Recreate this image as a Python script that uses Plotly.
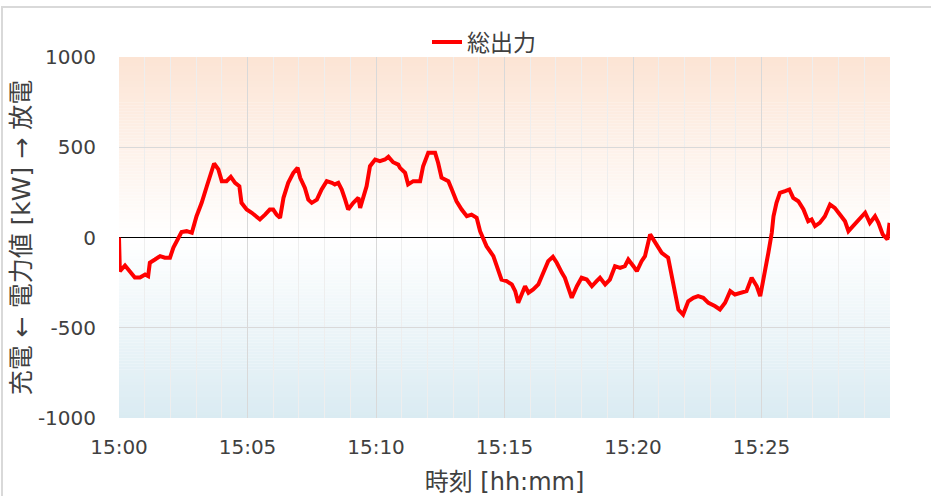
import plotly.graph_objects as go
import pandas as pd

# ---- data ----
elapsed_s = [0, 2, 14, 26, 37, 49, 61, 68, 72, 84, 96, 107, 119, 127, 138, 146, 158, 170, 181, 193,
             205, 212, 222, 232, 240, 251, 261, 271, 281, 286, 298, 310, 321, 329, 341, 352, 360, 368,
             376, 384, 395, 407, 417, 423, 434, 442, 450, 462, 473, 485, 497, 504, 512, 520, 528, 535,
             547, 559, 563, 570, 578, 586, 598, 609, 621, 629, 640, 652, 656, 668, 675, 687, 703, 710,
             722, 738, 745, 753, 769, 777, 788, 800, 812, 823, 835, 843, 850, 858, 874, 882, 893, 905,
             917, 925, 932, 940, 948, 956, 967, 979, 991, 1002, 1013, 1022, 1034, 1041, 1049, 1057,
             1069, 1080, 1092, 1104, 1115, 1123, 1135, 1146, 1158, 1170, 1181, 1189, 1201, 1209, 1220,
             1228, 1240, 1251, 1259, 1267, 1282, 1290, 1298, 1306, 1317, 1329, 1341, 1352, 1364, 1376,
             1391, 1403, 1415, 1427, 1438, 1454, 1465, 1477, 1489, 1497, 1508, 1516, 1524, 1528, 1535,
             1543, 1555, 1565, 1574, 1586, 1598, 1609, 1617, 1625, 1636, 1648, 1660, 1671, 1683, 1695,
             1703, 1714, 1726, 1742, 1753, 1765, 1773, 1783, 1794, 1799]
power_kw = [0, -187, -155, -187, -222, -222, -205, -214, -140, -122, -103, -112, -112, -56, -11, 30, 35, 26,
            118, 192, 284, 340, 410, 377, 312, 312, 336, 303, 284, 192, 155, 137, 118, 100, 127, 155,
            155, 127, 109, 220, 303, 358, 386, 331, 275, 210, 192, 210, 266, 312, 303, 294, 303, 266,
            210, 155, 192, 220, 164, 229, 284, 395, 432, 423, 432, 447, 417, 404, 386, 358, 294, 312,
            312, 395, 469, 469, 414, 331, 312, 266, 201, 155, 118, 127, 109, 35, 0, -48, -103, -159,
            -233, -242, -260, -297, -362, -316, -270, -306, -288, -260, -196, -131, -107, -140, -196,
            -223, -279, -334, -270, -223, -233, -270, -242, -223, -260, -233, -159, -168, -159, -122,
            -159, -187, -131, -103, 17, -29, -57, -85, -112, -214, -325, -399, -427, -353, -334, -325,
            -334, -362, -380, -399, -362, -297, -316, -306, -297, -223, -270, -325, -196, -85, 26, 118,
            192, 247, 257, 266, 220, 201, 155, 90, 100, 63, 81, 118, 183, 164, 127, 90, 35, 63, 100,
            137, 81, 118, 81, 17, -11, 81]
series_name = "総出力"
x_tick_labels = ["15:00", "15:05", "15:10", "15:15", "15:20", "15:25"]
y_tick_values = [-1000, -500, 0, 500, 1000]
y_tick_labels = ["-1000", "-500", "0", "500", "1000"]
x_title = "時刻 [hh:mm]"
y_title = "充電 ← 電力値 [kW] → 放電"

start = pd.Timestamp("2000-01-01 15:00:00")
times = [start + pd.Timedelta(seconds=s) for s in elapsed_s]
tick_times = [start + pd.Timedelta(minutes=5 * i) for i in range(len(x_tick_labels))]
end = start + pd.Timedelta(minutes=30)

fig = go.Figure()
fig.add_trace(go.Scatter(x=times, y=power_kw, mode="lines", name=series_name,
                         line=dict(color="#FF0000", width=4)))

# gradient background (peach above zero, light blue below)
def mix(c1, c2, t):
    return "rgb(%d,%d,%d)" % tuple(round(a + (b - a) * t) for a, b in zip(c1, c2))

peach = (252, 228, 212)
white = (255, 255, 255)
blue = (218, 235, 242)
n = 60
shapes = []
for i in range(n):
    t0 = i / n
    t1 = (i + 1) / n
    tm = (t0 + t1) / 2
    shapes.append(dict(type="rect", xref="paper", yref="y", x0=0, x1=1,
                       y0=1000 * t0, y1=1000 * t1, line=dict(width=0),
                       fillcolor=mix(white, peach, tm), layer="below"))
    shapes.append(dict(type="rect", xref="paper", yref="y", x0=0, x1=1,
                       y0=-1000 * t1, y1=-1000 * t0, line=dict(width=0),
                       fillcolor=mix(white, blue, tm), layer="below"))
# outer chart frame
shapes.append(dict(type="rect", xref="paper", yref="paper",
                   x0=(2 - 119) / 771, x1=1.3, y0=-0.4, y1=(418 - 7) / 361,
                   line=dict(color="#D9D9D9", width=2), fillcolor="rgba(0,0,0,0)", layer="below"))

fig.update_layout(
    width=931, height=496,
    margin=dict(l=119, r=41, t=57, b=78),
    paper_bgcolor="white", plot_bgcolor="white",
    font=dict(family="DejaVu Sans, Noto Sans CJK JP", color="#404040", size=18),
    shapes=shapes,
    showlegend=True,
    legend=dict(orientation="h", x=(484 - 119) / 771, xanchor="center",
                y=(418 - 42) / 361, yanchor="middle",
                font=dict(size=23, family="Noto Sans CJK JP", color="#404040"),
                bgcolor="rgba(0,0,0,0)"),
    xaxis=dict(type="date", range=[start, end], automargin=False,
               tickvals=tick_times, ticktext=x_tick_labels,
               showgrid=True, gridcolor="#D9D9D9", gridwidth=1,
               minor=dict(dtick=60000, showgrid=True, gridcolor="#EEEEEE", gridwidth=1),
               showline=False, zeroline=False, ticks="",
               ticklabelstandoff=15,
               tickfont=dict(size=20, family="DejaVu Sans", color="#404040"),
               title=dict(text=x_title, standoff=18,
                          font=dict(size=24, family="DejaVu Sans, Noto Sans CJK JP", color="#404040"))),
    yaxis=dict(range=[-1000, 1000], tickvals=y_tick_values, ticktext=y_tick_labels,
               automargin=False,
               showgrid=True, gridcolor="#D9D9D9", gridwidth=1,
               zeroline=True, zerolinecolor="#000000", zerolinewidth=1,
               showline=False, ticks="", ticklabelstandoff=22,
               tickfont=dict(size=20, family="DejaVu Sans", color="#404040"),
               title=dict(text=y_title, standoff=0,
                          font=dict(size=25, family="DejaVu Sans, Noto Sans CJK JP", color="#404040"))),
)

fig.write_html("out.html", config={"displayModeBar": False},
               post_script="document.body.style.margin='0';document.body.style.overflow='hidden';")
